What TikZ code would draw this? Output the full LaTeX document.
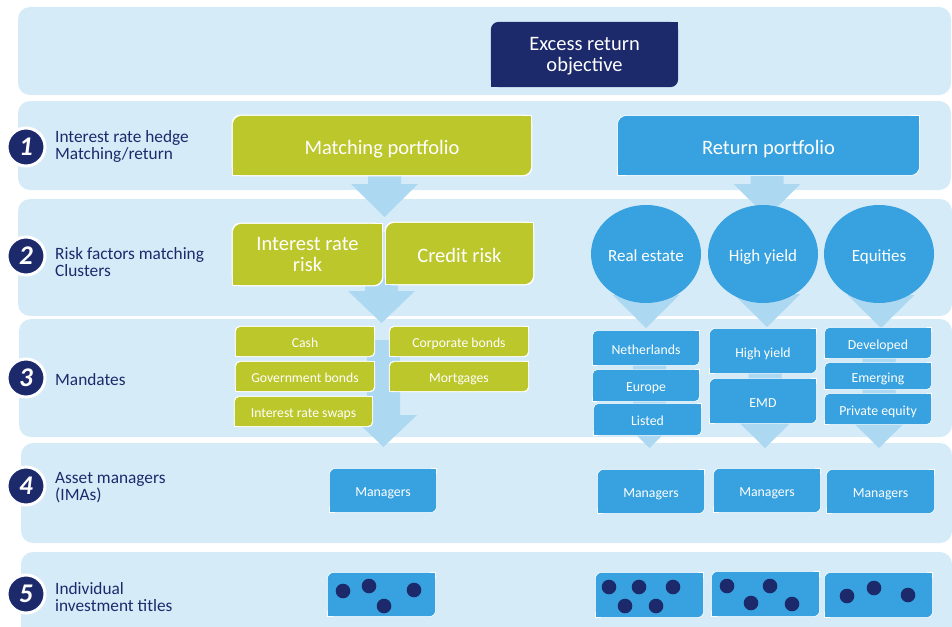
\documentclass[tikz,border=0pt]{standalone}
\usepackage{fontspec}
\setmainfont{Carlito}
\usetikzlibrary{shapes.geometric,calc}
\definecolor{band}{HTML}{D6EBF8}
\definecolor{navy}{HTML}{1C2A6B}
\definecolor{lime}{HTML}{BCC72C}
\definecolor{sky}{HTML}{37A2DF}
\definecolor{arw}{HTML}{ADD8F2}
\pgfdeclarelayer{bands}\pgfdeclarelayer{arrows}\pgfdeclarelayer{boxes}
\pgfsetlayers{bands,arrows,boxes,main}
\newcommand\fs[2]{\fontsize{#1}{#2}\selectfont}
\newcommand\leaffill[4]{%
  \fill[#3,rounded corners=#4] (#1) rectangle (#2);
  \fill[#3] (#1 -| #2) rectangle ++(-#4,-#4);
  \fill[#3] (#1 |- #2) rectangle ++(#4,#4);
}
\newcommand\leafnode[4]{%
  \begin{pgfonlayer}{boxes}
  \path (#1.north west) ++(-#4,#4) coordinate (lbA);
  \path (#1.south east) ++(#4,-#4) coordinate (lbB);
  \leaffill{lbA}{lbB}{white}{#3}
  \leaffill{#1.north west}{#1.south east}{#2}{#3}
  \end{pgfonlayer}
}
\newcommand\blockarrow[3]{%
  \begin{pgfonlayer}{arrows}
  \fill[arw] let \p1=(#1), \p2=(#2) in
    (\x2-16.5pt,\y1) -- (\x2+16.5pt,\y1) -- (\x2+16.5pt,\y2+#3) -- (\x2+33.5pt,\y2+#3)
    -- (\x2,\y2) -- (\x2-33.5pt,\y2+#3) -- (\x2-16.5pt,\y2+#3) -- cycle;
  \end{pgfonlayer}
}
\tikzset{
  bx/.style={inner sep=0pt, text=white, align=center, text depth=0pt},
  lbl/.style={anchor=west, inner sep=0pt, align=left, text=navy, font=\fs{17.3}{16.8}},
  numc/.style={circle, fill=navy, draw=white, line width=3pt, minimum size=38pt, inner sep=0pt, text=white, font=\fs{27}{27}\bfseries\itshape},
  bub/.style={ellipse, fill=sky, minimum width=110pt, minimum height=98pt, inner sep=0pt, text=white, font=\fs{17}{17}, text height=14.5pt, text depth=0pt},
  dotn/.style={circle, fill=navy, minimum size=14.6pt, inner sep=0pt},
  big/.style={bx, font=\fs{20.5}{21}},
  bigone/.style={big, text height=17pt},
  gm/.style={bx, minimum width=138pt, minimum height=29pt, font=\fs{13.7}{14}, text height=11.7pt},
  bm/.style={bx, minimum width=106pt, font=\fs{13.8}{14}, text height=12.3pt},
  mgr/.style={bx, minimum width=106pt, minimum height=43pt, font=\fs{13.8}{14}, text height=11.7pt},
  dbox/.style={bx, minimum width=107pt, minimum height=44pt},
}
\begin{document}
\begin{tikzpicture}[x=1pt,y=-1pt]
\useasboundingbox (0,0) rectangle (952,626);
% bands
\begin{pgfonlayer}{bands}
\begin{scope}
\clip (0,0) rectangle (952,626);
\fill[band, rounded corners=12pt] (18,7) rectangle (951,95);
\fill[band, rounded corners=12pt] (18,101) rectangle (951,190);
\fill[band, rounded corners=12pt] (18,199) rectangle (952,316);
\fill[band, rounded corners=12pt] (19,319) rectangle (952,437);
\fill[band, rounded corners=12pt] (21,443) rectangle (952,543);
\fill[band, rounded corners=12pt] (21,552) rectangle (952,650);
\end{scope}
\end{pgfonlayer}

% numbers and labels
\node[numc] (n1) at (26,147) {1};
\node[numc] (n2) at (26,256) {2};
\node[numc] (n3) at (26,378) {3};
\node[numc] (n4) at (26,486) {4};
\node[numc] (n5) at (26,594) {5};
\node[lbl] (l1) at (55,146.5) {Interest rate hedge\\Matching/return};
\node[lbl] (l2) at (55,262) {Risk factors matching\\Clusters};
\node[lbl] (l3) at (55,379.5) {Mandates};
\node[lbl] (l4) at (55,487.5) {Asset managers\\(IMAs)};
\node[lbl] (l5) at (55,597) {Individual\\investment titles};

% top
\node[big, minimum width=187pt, minimum height=65pt] (ero) at (584.5,54.5) {Excess return\\objective};
\leafnode{ero}{navy}{8pt}{0pt}

% portfolios
\node[bigone, minimum width=298pt, minimum height=59pt] (mp) at (382,145.5) {Matching portfolio};
\leafnode{mp}{lime}{9pt}{1.2pt}
\node[bigone, minimum width=301pt, minimum height=59pt] (rp) at (768.5,145.5) {Return portfolio};
\leafnode{rp}{sky}{9pt}{0.6pt}

% risk factors
\node[big, minimum width=149pt, minimum height=61pt] (irr) at (307.5,254.5) {Interest rate\\risk};
\leafnode{irr}{lime}{9pt}{1.2pt}
\node[bigone, minimum width=147pt, minimum height=61pt] (cr) at (459.5,253.5) {Credit risk};
\leafnode{cr}{lime}{9pt}{1.2pt}
\node[bub] (re) at (646,254) {Real estate};
\node[bub] (hy) at (763,254) {High yield};
\node[bub] (eq) at (879,254) {Equities};

% matching mandates
\node[gm] (cash) at (305,341.5) {Cash};
\leafnode{cash}{lime}{5pt}{1pt}
\node[gm] (gov) at (305,376.5) {Government bonds};
\leafnode{gov}{lime}{5pt}{1pt}
\node[gm, minimum width=137pt] (irs) at (303.5,411.5) {Interest rate swaps};
\leafnode{irs}{lime}{5pt}{1pt}
\node[gm] (corp) at (459,341.5) {Corporate bonds};
\leafnode{corp}{lime}{5pt}{1pt}
\node[gm] (mort) at (459,376.5) {Mortgages};
\leafnode{mort}{lime}{5pt}{1pt}

% return mandates
\node[bm, minimum height=34pt] (nl) at (646,348) {Netherlands};
\leafnode{nl}{sky}{5pt}{0.5pt}
\node[bm, minimum height=31pt] (eu) at (646,385.5) {Europe};
\leafnode{eu}{sky}{5pt}{0.5pt}
\node[bm, minimum width=107pt, minimum height=31pt] (lst) at (647.5,419.5) {Listed};
\leafnode{lst}{sky}{5pt}{0.5pt}
\node[bm, minimum height=44pt] (hyb) at (763,351) {High yield};
\leafnode{hyb}{sky}{6pt}{0.5pt}
\node[bm, minimum height=44pt] (emd) at (763,401) {EMD};
\leafnode{emd}{sky}{6pt}{0.5pt}
\node[bm, minimum height=30pt] (dev) at (878,343) {Developed};
\leafnode{dev}{sky}{5pt}{0.5pt}
\node[bm, minimum height=26pt] (emg) at (878,376) {Emerging};
\leafnode{emg}{sky}{5pt}{0.5pt}
\node[bm, minimum height=30pt] (pe) at (878,409) {Private equity};
\leafnode{pe}{sky}{5pt}{0.5pt}

% managers
\node[mgr] (mg0) at (383,490.5) {Managers};
\leafnode{mg0}{sky}{6pt}{0.5pt}
\node[mgr] (mg1) at (651,491.5) {Managers};
\leafnode{mg1}{sky}{6pt}{0.5pt}
\node[mgr] (mg2) at (767,490.5) {Managers};
\leafnode{mg2}{sky}{6pt}{0.5pt}
\node[mgr, minimum width=107pt] (mg3) at (880.5,491.5) {Managers};
\leafnode{mg3}{sky}{6pt}{0.5pt}

% investment titles
\node[dbox, minimum height=43pt] (db0) at (381.5,594.5) {};
\leafnode{db0}{sky}{6pt}{0.5pt}
\node[dbox] (db1) at (649.5,595) {};
\leafnode{db1}{sky}{6pt}{0.5pt}
\node[dbox] (db2) at (765.5,594) {};
\leafnode{db2}{sky}{6pt}{0.5pt}
\node[dbox] (db3) at (878.5,595) {};
\leafnode{db3}{sky}{6pt}{0.5pt}

\node[dotn] (d01) at (343,591) {};
\node[dotn] (d02) at (369,586) {};
\node[dotn] (d03) at (384,606) {};
\node[dotn] (d04) at (414,590) {};
\node[dotn] (d11) at (609,587) {};
\node[dotn] (d12) at (639,587) {};
\node[dotn] (d13) at (673,587) {};
\node[dotn] (d14) at (625,606) {};
\node[dotn] (d15) at (656,606) {};
\node[dotn] (d21) at (727,586) {};
\node[dotn] (d22) at (770,586) {};
\node[dotn] (d23) at (751,603) {};
\node[dotn] (d24) at (792,604) {};
\node[dotn] (d31) at (847,596) {};
\node[dotn] (d32) at (874,588) {};
\node[dotn] (d33) at (908,595) {};

% arrows
\coordinate (a1s) at (384.5,172); \coordinate (a1t) at (384.5,217);
\coordinate (a2s) at (767,172);   \coordinate (a2t) at (767,217);
\coordinate (a3s) at (381.5,232); \coordinate (a3t) at (381.5,323);
\coordinate (a4s) at (383.5,340); \coordinate (a4t) at (383.5,447);
\coordinate (c1s) at (646,270);   \coordinate (c1t) at (646,328);
\coordinate (c2s) at (767,270);   \coordinate (c2t) at (767,327);
\coordinate (c3s) at (881,270);   \coordinate (c3t) at (881,328);
\coordinate (m1s) at (649.5,335); \coordinate (m1t) at (649.5,448);
\coordinate (m2s) at (765,335);   \coordinate (m2t) at (765,448);
\coordinate (m3s) at (879,335);   \coordinate (m3t) at (879,448);
\blockarrow{a1s}{a1t}{33pt}
\blockarrow{a2s}{a2t}{33pt}
\blockarrow{a3s}{a3t}{32pt}
\blockarrow{a4s}{a4t}{32pt}
\blockarrow{c1s}{c1t}{33pt}
\blockarrow{c2s}{c2t}{33pt}
\blockarrow{c3s}{c3t}{33pt}
\blockarrow{m1s}{m1t}{33pt}
\blockarrow{m2s}{m2t}{33pt}
\blockarrow{m3s}{m3t}{33pt}
\end{tikzpicture}
\end{document}
